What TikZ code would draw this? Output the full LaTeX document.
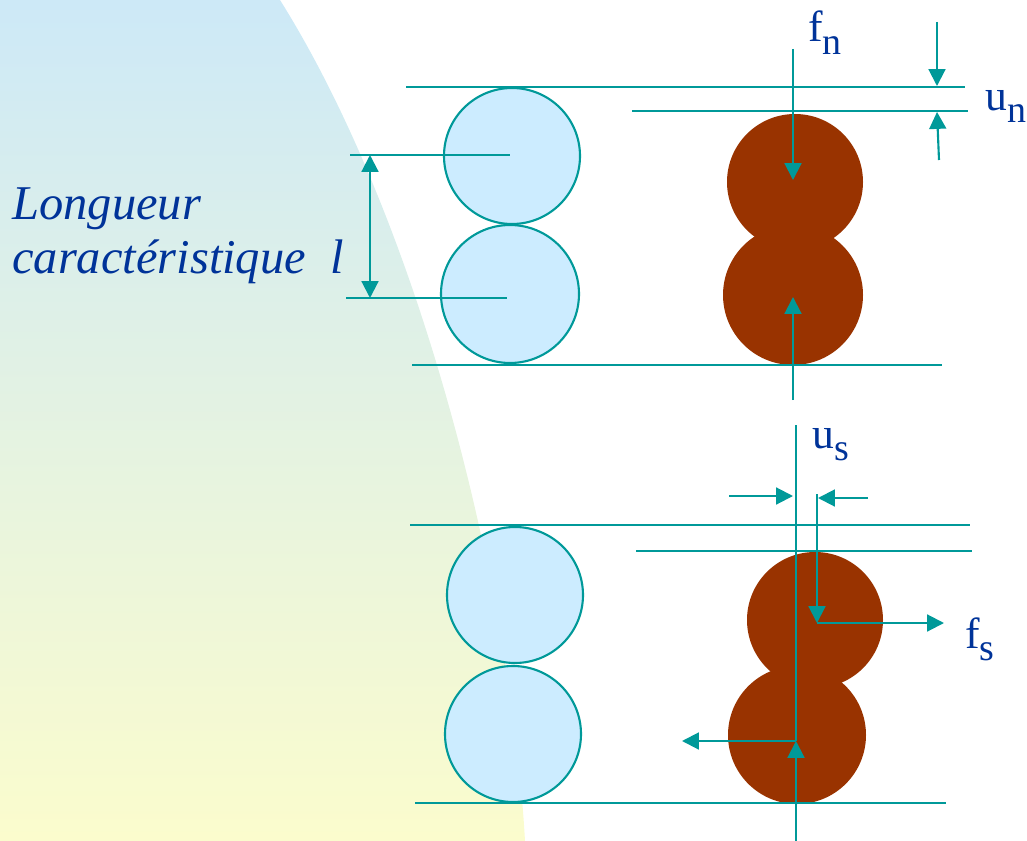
\documentclass[tikz,border=0pt]{standalone}
\usepackage{fontspec}
\setmainfont{Liberation Serif}
\usetikzlibrary{arrows.meta}

\definecolor{lignecol}{RGB}{0,153,153}
\definecolor{grainbleu}{RGB}{204,236,255}
\definecolor{grainbrun}{RGB}{153,51,0}
\definecolor{textebleu}{RGB}{0,51,153}
\definecolor{fondhaut}{RGB}{205,233,247}
\definecolor{fondbas}{RGB}{251,252,205}

\newcommand{\indice}[1]{\raisebox{-9pt}{\fontsize{27}{27}\selectfont #1}}

\begin{document}
\begin{tikzpicture}[x=0.025cm, y=-0.025cm, >={Triangle[length=12pt,width=12pt]},
  trait/.style={draw=lignecol, line width=1.5pt},
  fleche/.style={trait, ->},
  grainb/.style={fill=grainbleu, draw=lignecol, line width=1.5pt},
  grainr/.style={fill=grainbrun},
  etiq/.style={text=textebleu, inner sep=0pt, anchor=base west, font=\fontsize{31}{31}\selectfont}]

  \useasboundingbox (0,0) rectangle (1027,841);

  % ===== fond =====
  \shade[top color=fondhaut, bottom color=fondbas]
  (0,0) -- (280,0) .. controls (418,220) and (510,580) .. (525,841) -- (0,841) -- cycle;

  % ===== texte =====
  \node[etiq, font=\fontsize{34.5}{34.5}\selectfont\itshape] (lg1) at (12,219) {Longueur};
  \node[etiq, font=\fontsize{34.5}{34.5}\selectfont\itshape] (lg2) at (12,273) {caractéristique~~l};

  % ===== grains (haut) =====
  \path[grainb] (512,156) circle (68);
  \path[grainb] (510,294) circle (69);
  \path[grainr] (795,182) circle (68);
  \path[grainr] (793,295) circle (70);

  % ===== grains (bas) =====
  \path[grainb] (515,595) circle (68);
  \path[grainb] (513,734) circle (68);
  \path[grainr] (815,620) circle (68);
  \path[grainr] (797,735) circle (69);

  % ===== cas normal =====
  \coordinate (h1a) at (406,87);  \coordinate (h1b) at (965,87);
  \coordinate (h2a) at (632,111); \coordinate (h2b) at (968,111);
  \coordinate (h3a) at (412,365); \coordinate (h3b) at (942,365);
  \draw[trait] (h1a) -- (h1b);
  \draw[trait] (h2a) -- (h2b);
  \draw[trait] (h3a) -- (h3b);

  % ---- longueur l ----
  \coordinate (l1a) at (350,155); \coordinate (l1b) at (510,155);
  \coordinate (l2a) at (346,298); \coordinate (l2b) at (507,298);
  \draw[trait] (l1a) -- (l1b);
  \draw[trait] (l2a) -- (l2b);
  \coordinate (la) at (370,155); \coordinate (lb) at (370,298);
  \draw[fleche, <->] (la) -- (lb);

  % ---- f_n ----
  \coordinate (fn0) at (793,49);  \coordinate (fn1) at (793,180);
  \coordinate (fn2) at (793,400); \coordinate (fn3) at (793,297);
  \draw[fleche] (fn0) -- (fn1);
  \draw[fleche] (fn2) -- (fn3);
  \node[etiq] (fn) at (808,42) {f\indice{n}};

  % ---- u_n ----
  \coordinate (un0) at (937,22);  \coordinate (un1) at (937,86);
  \coordinate (un2) at (939,160); \coordinate (un3) at (937,112);
  \draw[fleche] (un0) -- (un1);
  \draw[fleche] (un2) -- (un3);
  \node[etiq] (un) at (985,110) {u\indice{n}};

  % ===== cas tangentiel =====
  \coordinate (b1a) at (410,525); \coordinate (b1b) at (970,525);
  \coordinate (b2a) at (636,551); \coordinate (b2b) at (972,551);
  \coordinate (b3a) at (415,803); \coordinate (b3b) at (946,803);
  \draw[trait] (b1a) -- (b1b);
  \draw[trait] (b2a) -- (b2b);
  \draw[trait] (b3a) -- (b3b);

  % ---- axe et reaction ----
  \coordinate (ax0) at (796,425); \coordinate (ax1) at (796,741);
  \coordinate (ax2) at (796,841); \coordinate (ax3) at (682,741);
  \draw[trait] (ax0) -- (ax1);
  \draw[fleche] (ax2) -- (ax1);
  \draw[fleche] (ax1) -- (ax3);

  % ---- u_s ----
  \coordinate (us0) at (729,496); \coordinate (us1) at (793,496);
  \coordinate (us2) at (868,498); \coordinate (us3) at (818,498);
  \draw[fleche] (us0) -- (us1);
  \draw[fleche] (us2) -- (us3);
  \node[etiq] (us) at (812,448) {u\indice{s}};

  % ---- f_s ----
  \coordinate (fs0) at (817,494); \coordinate (fs1) at (817,623);
  \coordinate (fs2) at (944,623);
  \draw[fleche] (fs0) -- (fs1);
  \draw[fleche] (fs1) -- (fs2);
  \node[etiq] (fs) at (965,648) {f\indice{s}};

\end{tikzpicture}
\end{document}
